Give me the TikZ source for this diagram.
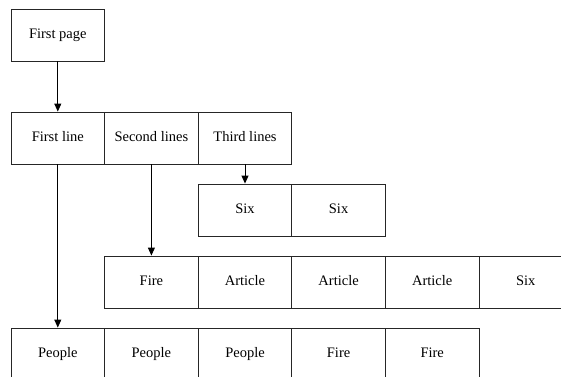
\documentclass[tikz,border=0pt]{standalone}
\usepackage{fontspec}
\setmainfont{Liberation Serif}
\usetikzlibrary{arrows.meta}
\begin{document}
\begin{tikzpicture}[x=1pt,y=-1pt,
  cell/.style={draw=black!85,line width=0.9pt,minimum width=93.6pt,minimum height=52pt,inner sep=0pt,text height=10pt,text depth=3pt,font=\fontsize{14.5}{17}\selectfont},
  link/.style={draw=black,line width=0.9pt,-{Triangle[width=7pt,length=8pt]}}]
\useasboundingbox (0,0) rectangle (561,376);
\clip (0,0) rectangle (561,376);
\node[cell] (fp) at (57.8,35) {First page};
\node[cell] (l1) at (57.8,138) {First line};
\node[cell] (l2) at (151.4,138) {Second lines};
\node[cell] (l3) at (245,138) {Third lines};
\node[cell] (s1) at (245,210) {Six};
\node[cell] (s2) at (338.6,210) {Six};
\node[cell] (f1) at (151.4,282) {Fire};
\node[cell] (f2) at (245,282) {Article};
\node[cell] (f3) at (338.6,282) {Article};
\node[cell] (f4) at (432.2,282) {Article};
\node[cell] (f5) at (525.8,282) {Six};
\node[cell] (p1) at (57.8,354) {People};
\node[cell] (p2) at (151.4,354) {People};
\node[cell] (p3) at (245,354) {People};
\node[cell] (p4) at (338.6,354) {Fire};
\node[cell] (p5) at (432.2,354) {Fire};
\draw[link] (fp.south) -- (l1.north);
\draw[link] (l1.south) -- (p1.north);
\draw[link] (l2.south) -- (f1.north);
\draw[link] (l3.south) -- (s1.north);
\end{tikzpicture}
\end{document}
